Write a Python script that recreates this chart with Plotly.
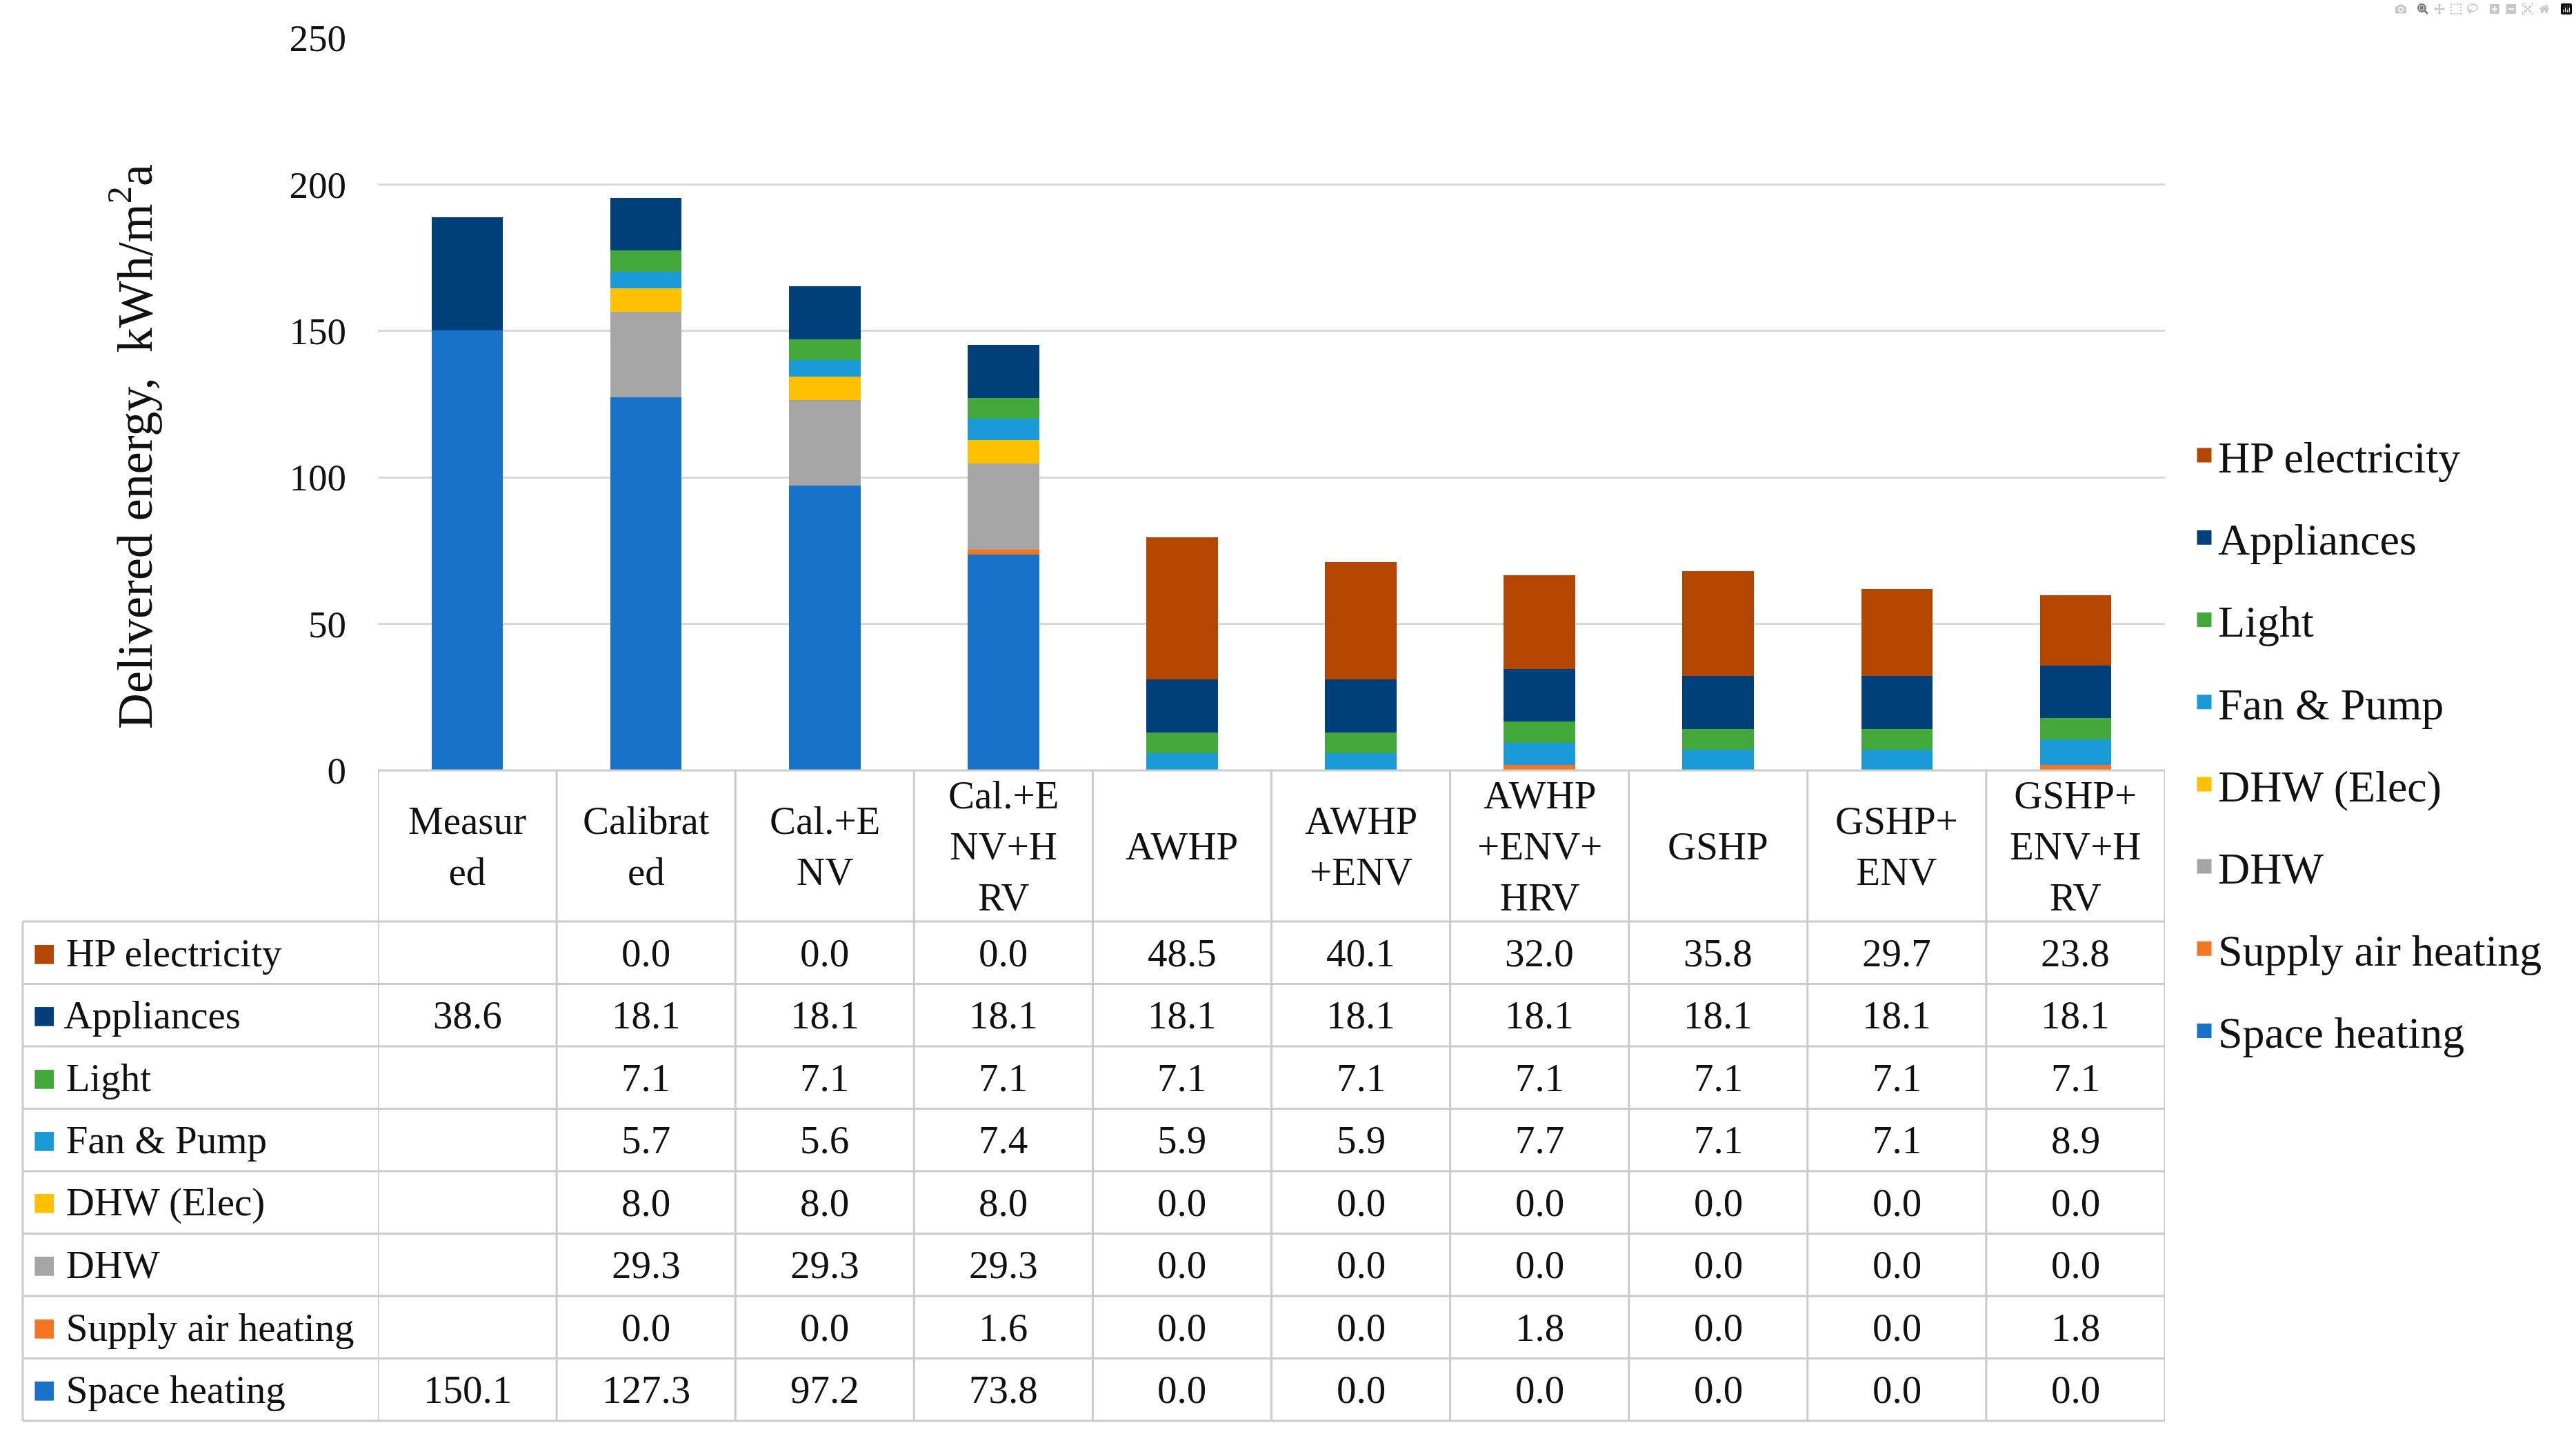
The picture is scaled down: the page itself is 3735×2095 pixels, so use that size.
import plotly.graph_objects as go

# ---------------- data ----------------
categories = ["Measured", "Calibrated", "Cal.+ENV", "Cal.+ENV+HRV", "AWHP",
              "AWHP+ENV", "AWHP+ENV+HRV", "GSHP", "GSHP+ENV", "GSHP+ENV+HRV"]
header_labels = ["Measur<br>ed", "Calibrat<br>ed", "Cal.+E<br>NV", "Cal.+E<br>NV+H<br>RV",
                 "AWHP", "AWHP<br>+ENV", "AWHP<br>+ENV+<br>HRV", "GSHP",
                 "GSHP+<br>ENV", "GSHP+<br>ENV+H<br>RV"]

hp_electricity = [None, 0.0, 0.0, 0.0, 48.5, 40.1, 32.0, 35.8, 29.7, 23.8]
appliances = [38.6, 18.1, 18.1, 18.1, 18.1, 18.1, 18.1, 18.1, 18.1, 18.1]
light = [None, 7.1, 7.1, 7.1, 7.1, 7.1, 7.1, 7.1, 7.1, 7.1]
fan_pump = [None, 5.7, 5.6, 7.4, 5.9, 5.9, 7.7, 7.1, 7.1, 8.9]
dhw_elec = [None, 8.0, 8.0, 8.0, 0.0, 0.0, 0.0, 0.0, 0.0, 0.0]
dhw = [None, 29.3, 29.3, 29.3, 0.0, 0.0, 0.0, 0.0, 0.0, 0.0]
supply_air_heating = [None, 0.0, 0.0, 1.6, 0.0, 0.0, 1.8, 0.0, 0.0, 1.8]
space_heating = [150.1, 127.3, 97.2, 73.8, 0.0, 0.0, 0.0, 0.0, 0.0, 0.0]

# stacking order bottom -> top
series_names = ["Space heating", "Supply air heating", "DHW", "DHW (Elec)",
                "Fan & Pump", "Light", "Appliances", "HP electricity"]
series_values = [space_heating, supply_air_heating, dhw, dhw_elec,
                 fan_pump, light, appliances, hp_electricity]
series_colors = ["#1872C9", "#F47521", "#A5A5A5", "#FFC000",
                 "#1B9AD8", "#43A83A", "#00407A", "#B44600"]

y_ticks = [0, 50, 100, 150, 200, 250]
y_title = "Delivered energy,  kWh/m<sup>2</sup>a"

# ---------------- geometry (pixels) ----------------
W, H = 3735, 2095
def px_x(p):
    return p / W
def px_y(p):
    return 1 - p / H

plot_left, plot_right = 548, 3139
plot_top, plot_bottom = 55, 1117
header_bottom = 1336
row_h = 90.5
label_left = 33
FONT = "Liberation Serif, Times New Roman, serif"
TXT = "#111111"
LINE = "#CBCBCB"

fig = go.Figure()
n = len(series_names)
for k, (name, vals, col) in enumerate(zip(series_names, series_values, series_colors)):
    fig.add_trace(go.Bar(
        x=categories, y=vals, name=name, legendgroup=name, showlegend=False,
        marker=dict(color=col, line=dict(width=0)),
    ))
    # legend entry (square swatch), drawn only in the legend
    fig.add_trace(go.Scatter(
        x=[None], y=[None], mode="markers", name=name, legendgroup=name,
        legendrank=n - k, showlegend=True,
        marker=dict(symbol="square", size=16, color=col, line=dict(color=col, width=5)),
    ))

annotations = []
shapes = []

# y-axis title
annotations.append(dict(
    x=px_x(190), y=px_y(648), xref="paper", yref="paper", text=y_title,
    textangle=-90, showarrow=False, xanchor="center", yanchor="middle",
    font=dict(size=72, family=FONT, color=TXT)))

# table header
for i, lab in enumerate(header_labels):
    annotations.append(dict(
        x=categories[i], y=px_y((plot_bottom + header_bottom) / 2), xref="x", yref="paper",
        text=lab, showarrow=False, xanchor="center", yanchor="middle",
        font=dict(size=57, family=FONT, color=TXT)))

# table rows (top -> bottom)
rows_top_down = list(zip(series_names, series_values, series_colors))[::-1]
for r, (name, vals, col) in enumerate(rows_top_down):
    yc = px_y(header_bottom + (r + 0.5) * row_h)
    annotations.append(dict(
        x=px_x(45), y=yc, xref="paper", yref="paper",
        text=f"<span style='color:{col}'>■</span> {name}",
        showarrow=False, xanchor="left", yanchor="middle",
        font=dict(size=57, family=FONT, color=TXT)))
    for i, v in enumerate(vals):
        if v is None:
            continue
        annotations.append(dict(
            x=categories[i], y=yc, xref="x", yref="paper", text=f"{v:.1f}",
            showarrow=False, xanchor="center", yanchor="middle",
            font=dict(size=57, family=FONT, color=TXT)))

table_bottom = header_bottom + n * row_h
# header top line
shapes.append(dict(type="line", xref="paper", yref="paper",
                   x0=px_x(plot_left), x1=px_x(plot_right), y0=px_y(plot_bottom), y1=px_y(plot_bottom),
                   line=dict(color=LINE, width=3)))
# row lines
for k in range(n + 1):
    yy = px_y(header_bottom + k * row_h)
    shapes.append(dict(type="line", xref="paper", yref="paper",
                       x0=px_x(label_left), x1=px_x(plot_right), y0=yy, y1=yy,
                       line=dict(color=LINE, width=3)))
# vertical lines at category boundaries
for i in range(len(categories) + 1):
    shapes.append(dict(type="line", xref="x", yref="paper",
                       x0=i - 0.5, x1=i - 0.5, y0=px_y(plot_bottom), y1=px_y(table_bottom),
                       line=dict(color=LINE, width=3)))
# label column left border
shapes.append(dict(type="line", xref="paper", yref="paper",
                   x0=px_x(label_left), x1=px_x(label_left),
                   y0=px_y(header_bottom), y1=px_y(table_bottom),
                   line=dict(color=LINE, width=3)))

fig.update_layout(
    width=W, height=H,
    margin=dict(l=0, r=0, t=0, b=0, autoexpand=False),
    paper_bgcolor="white", plot_bgcolor="white",
    barmode="stack", bargap=0.6,
    font=dict(family=FONT, size=55, color=TXT),
    xaxis=dict(domain=[px_x(plot_left), px_x(plot_right)], range=[-0.5, len(categories) - 0.5],
               showticklabels=False, showgrid=False, zeroline=False, showline=False, ticks="",
               automargin=False),
    yaxis=dict(domain=[px_y(plot_bottom), px_y(plot_top)], range=[0, 250],
               tickvals=y_ticks, gridcolor="#D9D9D9", gridwidth=3,
               zeroline=False, showline=False, ticks="", automargin=False,
               tickfont=dict(size=55, family=FONT, color=TXT), ticklabelstandoff=45),
    legend=dict(x=px_x(3176), y=px_y(612), xanchor="left", yanchor="top",
                font=dict(size=64, family=FONT, color=TXT),
                traceorder="grouped", tracegroupgap=33,
                bgcolor="rgba(0,0,0,0)"),
    annotations=annotations, shapes=shapes,
)

fig.write_html("out.html", post_script="document.body.style.margin='0';")
